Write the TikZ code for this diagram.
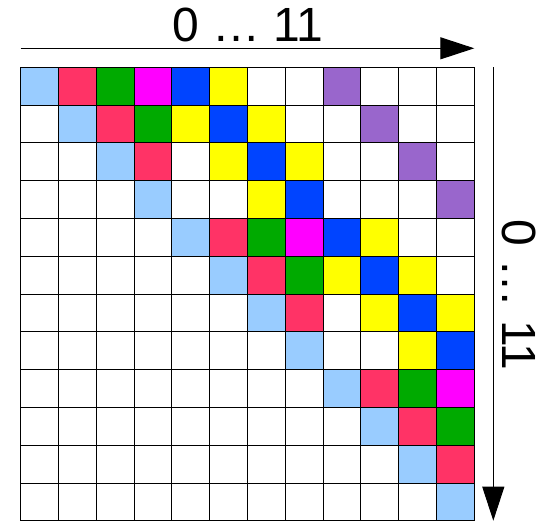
\documentclass[tikz,border=0pt]{standalone}
\usepackage{fontspec}
\setmainfont{Liberation Sans}
\usetikzlibrary{arrows.meta}

\definecolor{diagblue}{HTML}{99CCFF}
\definecolor{cellred}{HTML}{FF3366}
\definecolor{cellgreen}{HTML}{00AA00}
\definecolor{cellmagenta}{HTML}{FF00FF}
\definecolor{cellblue}{HTML}{0044FF}
\definecolor{cellyellow}{HTML}{FFFF00}
\definecolor{cellpurple}{HTML}{9966CC}

\begin{document}
\begin{tikzpicture}[x=1pt, y=-1pt,
    axis/.style={-{Triangle[length=34pt, width=22pt]}, line width=1pt},
    axislabel/.style={font=\fontsize{48}{58}\selectfont, inner sep=0pt}]
  \useasboundingbox (0,0) rectangle (543,523);
  % Matrix cells
  \begin{scope}[shift={(20.7,67.3)}, x=37.8pt, y=-37.8pt]
    \foreach \r/\c/\col in {0/0/diagblue, 0/1/cellred, 0/2/cellgreen, 0/3/cellmagenta, 0/4/cellblue, 0/5/cellyellow, 0/8/cellpurple,
        1/1/diagblue, 1/2/cellred, 1/3/cellgreen, 1/4/cellyellow, 1/5/cellblue, 1/6/cellyellow, 1/9/cellpurple,
        2/2/diagblue, 2/3/cellred, 2/5/cellyellow, 2/6/cellblue, 2/7/cellyellow, 2/10/cellpurple,
        3/3/diagblue, 3/6/cellyellow, 3/7/cellblue, 3/11/cellpurple,
        4/4/diagblue, 4/5/cellred, 4/6/cellgreen, 4/7/cellmagenta, 4/8/cellblue, 4/9/cellyellow,
        5/5/diagblue, 5/6/cellred, 5/7/cellgreen, 5/8/cellyellow, 5/9/cellblue, 5/10/cellyellow,
        6/6/diagblue, 6/7/cellred, 6/9/cellyellow, 6/10/cellblue, 6/11/cellyellow,
        7/7/diagblue, 7/10/cellyellow, 7/11/cellblue,
        8/8/diagblue, 8/9/cellred, 8/10/cellgreen, 8/11/cellmagenta,
        9/9/diagblue, 9/10/cellred, 9/11/cellgreen,
        10/10/diagblue, 10/11/cellred,
        11/11/diagblue}
      \fill[\col] (\c,\r) rectangle ++(1,1);
    % Grid lines
    \foreach \i in {0,...,12} {
      \draw[line width=1.1pt] (\i,0) -- (\i,12);
      \draw[line width=1.1pt] (0,\i) -- (12,\i);
    }
  \end{scope}
  % Column axis
  \coordinate (col start) at (20.7,48.3);
  \coordinate (col end) at (474.3,48.3);
  \draw[axis] (col start) -- (col end);
  \node[axislabel, anchor=base] (col label) at (248,41) {0 … 11};
  % Row axis
  \coordinate (row start) at (493.3,67.3);
  \coordinate (row end) at (493.3,520.7);
  \draw[axis] (row start) -- (row end);
  \node[axislabel, anchor=base, rotate=-90] (row label) at (502,295) {0 … 11};
\end{tikzpicture}
\end{document}
